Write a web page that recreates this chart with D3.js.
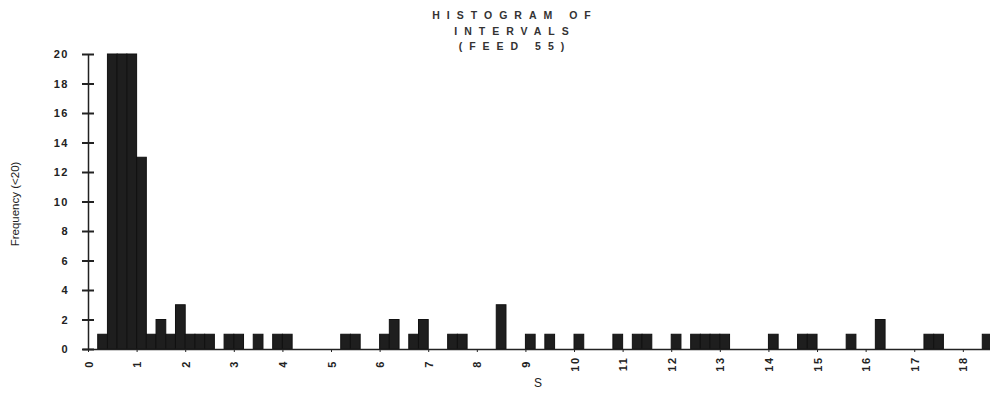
<!DOCTYPE html>
<html>
<head>
<meta charset="utf-8">
<script src="https://cdn.jsdelivr.net/npm/d3@7"></script>
<style>
    body { margin: 0; background: #fff; }
    text { font-family: "Liberation Sans", Arial, sans-serif; fill: #222; }
    .title { font-size: 10.5px; font-weight: bold; letter-spacing: 7px; fill: #333; }
    .tick-label { font-size: 11px; font-weight: bold; letter-spacing: 1.5px; fill: #222; }
    .axis-title { font-size: 11.5px; }
</style>
</head>
<body>
<svg class="chart" width="990" height="394"></svg>
<script>
// bin start (S), bins are 0.2 wide
var binStart = [0.2, 0.4, 0.6, 0.8, 1.0, 1.2, 1.4, 1.6, 1.8, 2.0, 2.2, 2.4, 2.8, 3.0, 3.4, 3.8, 4.0,
    5.2, 5.4, 6.0, 6.2, 6.6, 6.8, 7.4, 7.6, 8.4, 9.0, 9.4, 10.0, 10.8, 11.2, 11.4, 12.0,
    12.4, 12.6, 12.8, 13.0, 14.0, 14.6, 14.8, 15.6, 16.2, 17.2, 17.4, 18.4];
var frequency = [1, 20, 20, 20, 13, 1, 2, 1, 3, 1, 1, 1, 1, 1, 1, 1, 1,
    1, 1, 1, 2, 1, 2, 1, 1, 3, 1, 1, 1, 1, 1, 1, 1,
    1, 1, 1, 1, 1, 1, 1, 1, 2, 1, 1, 1];
var binWidth = 0.2;
var yTicks = [0, 2, 4, 6, 8, 10, 12, 14, 16, 18, 20];
var xTicks = d3.range(0, 19);
var titleLines = ["HISTOGRAM OF", "INTERVALS", "(FEED 55)"];

(function () {
    var svg = d3.select(".chart");

    var x = d3.scaleLinear()
        .domain([0, 18.6])
        .range([88, 992]);

    var y = d3.scaleLinear()
        .domain([0, 20])
        .range([349, 54]);

    var data = binStart.map(function (s, i) {
        return { s: s, f: frequency[i] };
    });

    //bars, one rect per bin
    svg.append("g")
        .selectAll("rect")
        .data(data)
        .enter()
        .append("rect")
        .attr("x", function (d) { return x(d.s); })
        .attr("y", function (d) { return y(d.f); })
        .attr("width", function (d) { return x(d.s + binWidth) - x(d.s); })
        .attr("height", function (d) { return y(0) - y(d.f); })
        .attr("fill", "#1e1e1e")
        .attr("stroke", "#111")
        .attr("stroke-width", 1);

    //y axis, ticks cross the line
    var yAxis = d3.axisLeft(y)
        .tickValues(yTicks)
        .tickSizeInner(6)
        .tickSizeOuter(0)
        .tickPadding(13);
    var gy = svg.append("g")
        .attr("transform", "translate(88,0)")
        .call(yAxis);
    gy.select(".domain").attr("stroke", "#222").attr("stroke-width", 1.5);
    gy.selectAll(".tick line").attr("x2", -6).attr("x1", 6).attr("stroke", "#222").attr("stroke-width", 2);
    gy.selectAll(".tick text").attr("class", "tick-label").attr("font-family", null).attr("font-size", null).attr("fill", null);

    //x axis, labels turned on their side
    var xAxis = d3.axisBottom(x)
        .tickValues(xTicks)
        .tickSizeInner(3)
        .tickSizeOuter(0)
        .tickFormat(d3.format("d"));
    var gx = svg.append("g")
        .attr("transform", "translate(0,349)")
        .call(xAxis);
    gx.select(".domain").attr("d", "M83,0.5H990").attr("stroke", "#222").attr("stroke-width", 1.5);
    gx.selectAll(".tick line").attr("stroke", "#222");
    gx.selectAll(".tick text")
        .attr("class", "tick-label")
        .attr("font-family", null)
        .attr("font-size", null)
        .attr("fill", null)
        .attr("y", 0)
        .attr("dy", null)
        .attr("text-anchor", "middle")
        .attr("dominant-baseline", "central")
        .attr("transform", "translate(0,15) rotate(-90)");

    svg.append("text")
        .attr("class", "axis-title")
        .attr("x", 538)
        .attr("y", 387)
        .attr("text-anchor", "middle")
        .style("font-size", "12px")
        .text("S");

    svg.append("text")
        .attr("class", "axis-title")
        .attr("transform", "translate(19,204) rotate(-90)")
        .attr("text-anchor", "middle")
        .text("Frequency (<20)");

    svg.append("g")
        .selectAll("text")
        .data(titleLines)
        .enter()
        .append("text")
        .attr("class", "title")
        .attr("x", 515)
        .attr("y", function (d, i) { return 19 + i * 15.5; })
        .attr("text-anchor", "middle")
        .text(function (d) { return d; });
})();
</script>
</body>
</html>
